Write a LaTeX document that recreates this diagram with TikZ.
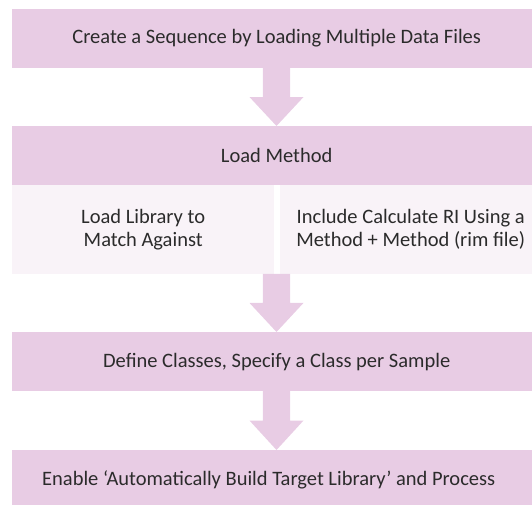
\documentclass[tikz,border=0pt]{standalone}
\usepackage{fontspec}
\setmainfont{Carlito}
\usetikzlibrary{calc}
\definecolor{stepfill}{HTML}{E8CCE4}
\definecolor{subfill}{HTML}{F9F3F8}
\definecolor{ink}{HTML}{2B2B2B}
\tikzset{
  stepbox/.style={fill=stepfill, draw=none, anchor=north west, inner sep=0pt,
    minimum width=529pt, minimum height=58.7pt, text=ink, font=\fontsize{20.5}{24}\selectfont},
  subbox/.style={fill=subfill, draw=none, anchor=north west, inner sep=0pt,
    minimum height=88.5pt, text=ink, align=center, font=\fontsize{20.5}{23.4}\selectfont},
  flowarrow/.style={fill=stepfill, draw=none}
}
% block arrow from the bottom of one box to the top of the next
\newcommand\blockarrow[2]{%
  \fill[flowarrow] let \p1=(#1), \p2=(#2), \n1={(\y1+\y2)/2} in
    (276.5pt-13.7pt,\y1) -- (276.5pt+13.7pt,\y1) -- (276.5pt+13.7pt,\n1) --
    (276.5pt+27pt,\n1) -- (276.5pt,\y2) -- (276.5pt-27pt,\n1) --
    (276.5pt-13.7pt,\n1) -- cycle;}
\begin{document}
\begin{tikzpicture}[x=1pt,y=-1pt]
\useasboundingbox (0,0) rectangle (532,504);
\node[stepbox] (load) at (12,9) {Create a Sequence by Loading Multiple Data Files};
\node[stepbox] (method) at (12,126) {Load Method};
\node[subbox, minimum width=262pt] (lib) at (12,185) {Load Library to\\Match Against};
\node[subbox, minimum width=261pt] (ri) at (280,185) {Include Calculate RI Using a\\Method + Method (rim file)};
\node[stepbox] (classes) at (12,332) {Define Classes, Specify a Class per Sample};
\node[stepbox] (build) at (12,450) {Enable ‘Automatically Build Target Library’ and Process\kern16pt\relax};
\blockarrow{load.south}{method.north}
\blockarrow{lib.south}{classes.north}
\blockarrow{classes.south}{build.north}
\end{tikzpicture}
\end{document}
